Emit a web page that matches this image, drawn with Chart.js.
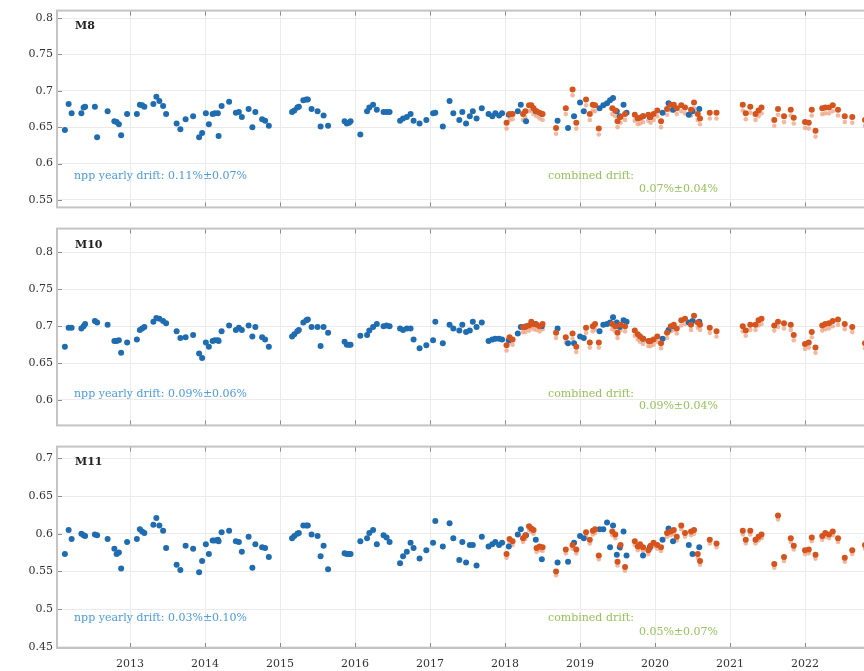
<!DOCTYPE html>
<html>
<head>
<meta charset="utf-8">
<script src="https://cdn.jsdelivr.net/npm/chart.js@4.4.1/dist/chart.umd.min.js"></script>
<style>
  html, body { margin: 0; padding: 0; background: #ffffff; overflow: hidden; }
  #wrap { position: relative; width: 864px; height: 671px; overflow: hidden; }
  .panel { position: absolute; left: 0; }
</style>
</head>
<body>
<div id="wrap">
  <div class="panel" style="top:0px"><canvas id="p0" width="905" height="218"></canvas></div>
  <div class="panel" style="top:218px"><canvas id="p1" width="905" height="218"></canvas></div>
  <div class="panel" style="top:436px"><canvas id="p2" width="905" height="235"></canvas></div>
</div>
<script>
// Observation dates (decimal years)
const nppDates = [
  2012.13, 2012.18, 2012.22, 2012.35, 2012.38, 2012.40, 2012.53, 2012.56, 2012.70, 2012.79, 2012.82, 2012.85, 2012.88, 2012.96,
  2013.09, 2013.13, 2013.16, 2013.19, 2013.31, 2013.35, 2013.39, 2013.44, 2013.48, 2013.62, 2013.67, 2013.74, 2013.84, 2013.92, 2013.96,
  2014.01, 2014.05, 2014.10, 2014.13, 2014.17, 2014.18, 2014.22, 2014.32, 2014.41, 2014.45, 2014.49, 2014.58, 2014.63, 2014.67, 2014.76, 2014.80, 2014.85,
  2015.16, 2015.19, 2015.23, 2015.25, 2015.31, 2015.35, 2015.37, 2015.42, 2015.50, 2015.54, 2015.58, 2015.64, 2015.86, 2015.89, 2015.92, 2015.94,
  2016.07, 2016.16, 2016.19, 2016.24, 2016.29, 2016.38, 2016.42, 2016.46, 2016.60, 2016.64, 2016.69, 2016.74, 2016.78, 2016.86, 2016.95,
  2017.04, 2017.07, 2017.17, 2017.26, 2017.31, 2017.39, 2017.43, 2017.48, 2017.53, 2017.57, 2017.62, 2017.69, 2017.78, 2017.83, 2017.87, 2017.92, 2017.96,
  2018.05, 2018.17, 2018.21, 2018.28, 2018.41, 2018.49, 2018.70, 2018.84, 2018.92, 2019.00, 2019.05,
  2019.26, 2019.31, 2019.36, 2019.40, 2019.44, 2019.49, 2019.53, 2019.58, 2019.62, 2019.84, 2019.93, 2020.10, 2020.18, 2020.24, 2020.45, 2020.50, 2020.59
];
const n20Dates = [
  2018.02, 2018.06, 2018.10, 2018.24, 2018.27, 2018.32, 2018.35, 2018.38, 2018.42, 2018.46, 2018.50, 2018.68, 2018.81, 2018.90, 2018.95,
  2019.08, 2019.13, 2019.17, 2019.20, 2019.25, 2019.43, 2019.47, 2019.50, 2019.54, 2019.60,
  2019.73, 2019.77, 2019.80, 2019.84, 2019.91, 2019.94, 2019.98, 2020.03, 2020.08, 2020.16, 2020.21, 2020.25, 2020.29, 2020.35, 2020.40, 2020.48, 2020.52, 2020.57, 2020.60, 2020.73, 2020.82,
  2021.17, 2021.21, 2021.27, 2021.34, 2021.38, 2021.42, 2021.59, 2021.64, 2021.72, 2021.81, 2021.85,
  2022.00, 2022.05, 2022.09, 2022.14, 2022.23, 2022.27, 2022.32, 2022.37, 2022.44, 2022.53, 2022.63, 2022.80
];

// M8
const m8Npp = [
  0.646, 0.682, 0.669, 0.669, 0.677, 0.678, 0.678, 0.636, 0.672, 0.658, 0.657, 0.654, 0.639, 0.668,
  0.668, 0.681, 0.680, 0.678, 0.682, 0.692, 0.686, 0.679, 0.668, 0.655, 0.647, 0.661, 0.665, 0.636, 0.642,
  0.669, 0.654, 0.668, 0.669, 0.669, 0.638, 0.679, 0.685, 0.670, 0.671, 0.664, 0.675, 0.650, 0.671, 0.661, 0.659, 0.652,
  0.671, 0.673, 0.677, 0.678, 0.687, 0.688, 0.688, 0.675, 0.672, 0.651, 0.666, 0.652, 0.658, 0.655, 0.656, 0.658,
  0.640, 0.672, 0.677, 0.681, 0.674, 0.671, 0.671, 0.671, 0.659, 0.662, 0.664, 0.668, 0.659, 0.655, 0.660,
  0.669, 0.670, 0.651, 0.686, 0.669, 0.660, 0.671, 0.655, 0.665, 0.672, 0.662, 0.676, 0.668, 0.665, 0.669, 0.666, 0.669,
  0.667, 0.672, 0.681, 0.658, 0.672, 0.668, 0.659, 0.649, 0.665, 0.684, 0.672,
  0.676, 0.680, 0.683, 0.687, 0.690, 0.672, 0.665, 0.681, 0.670, 0.665, 0.664, 0.670, 0.683, 0.674, 0.667, 0.672, 0.675
];
const m8N20 = [
  0.656, 0.668, 0.668, 0.668, 0.672, 0.680, 0.680, 0.676, 0.672, 0.670, 0.668, 0.649, 0.676, 0.702, 0.656,
  0.688, 0.668, 0.681, 0.680, 0.648, 0.676, 0.673, 0.658, 0.664, 0.668,
  0.667, 0.662, 0.663, 0.665, 0.667, 0.664, 0.668, 0.673, 0.658, 0.675, 0.681, 0.681, 0.676, 0.680, 0.677, 0.674, 0.684, 0.668, 0.662, 0.670, 0.670,
  0.681, 0.669, 0.678, 0.668, 0.673, 0.677, 0.660, 0.675, 0.665, 0.674, 0.663,
  0.657, 0.656, 0.674, 0.645, 0.676, 0.677, 0.677, 0.680, 0.674, 0.665, 0.664, 0.660
];
const m8N20Raw = [
  0.648, 0.660, 0.661, 0.660, 0.664, 0.672, 0.673, 0.668, 0.665, 0.662, 0.660, 0.641, 0.668, 0.694, 0.648,
  0.680, 0.660, 0.673, 0.672, 0.640, 0.668, 0.665, 0.650, 0.656, 0.660,
  0.659, 0.654, 0.655, 0.657, 0.659, 0.656, 0.660, 0.665, 0.650, 0.667, 0.673, 0.673, 0.668, 0.672, 0.669, 0.666, 0.676, 0.660, 0.654, 0.662, 0.662,
  0.673, 0.661, 0.670, 0.660, 0.665, 0.669, 0.652, 0.667, 0.657, 0.666, 0.655,
  0.649, 0.648, 0.666, 0.637, 0.668, 0.669, 0.669, 0.672, 0.666, 0.657, 0.656, 0.652
];

// M10
const m10Npp = [
  0.672, 0.698, 0.698, 0.697, 0.700, 0.703, 0.707, 0.705, 0.702, 0.680, 0.680, 0.681, 0.664, 0.678,
  0.682, 0.695, 0.697, 0.699, 0.706, 0.711, 0.710, 0.707, 0.704, 0.693, 0.684, 0.685, 0.688, 0.663, 0.657,
  0.678, 0.672, 0.680, 0.681, 0.681, 0.680, 0.693, 0.701, 0.695, 0.698, 0.695, 0.701, 0.686, 0.699, 0.685, 0.682, 0.672,
  0.686, 0.689, 0.693, 0.695, 0.705, 0.708, 0.709, 0.699, 0.699, 0.673, 0.699, 0.691, 0.679, 0.675, 0.675, 0.675,
  0.687, 0.688, 0.694, 0.699, 0.703, 0.700, 0.701, 0.700, 0.697, 0.695, 0.697, 0.697, 0.682, 0.670, 0.674,
  0.681, 0.706, 0.677, 0.702, 0.697, 0.694, 0.702, 0.692, 0.694, 0.706, 0.699, 0.705, 0.680, 0.682, 0.683, 0.683, 0.682,
  0.681, 0.690, 0.699, 0.700, 0.703, 0.700, 0.697, 0.677, 0.677, 0.686, 0.684,
  0.693, 0.702, 0.703, 0.705, 0.712, 0.705, 0.699, 0.708, 0.706, 0.683, 0.680, 0.683, 0.695, 0.700, 0.705, 0.707, 0.706
];
const m10N20 = [
  0.674, 0.685, 0.682, 0.699, 0.699, 0.701, 0.706, 0.703, 0.702, 0.700, 0.703, 0.691, 0.685, 0.690, 0.672,
  0.698, 0.678, 0.700, 0.703, 0.678, 0.703, 0.700, 0.691, 0.702, 0.700,
  0.694, 0.689, 0.686, 0.683, 0.680, 0.680, 0.682, 0.686, 0.677, 0.691, 0.700, 0.702, 0.697, 0.708, 0.710, 0.702, 0.714, 0.705, 0.702, 0.698, 0.693,
  0.700, 0.694, 0.702, 0.702, 0.708, 0.710, 0.701, 0.706, 0.704, 0.702, 0.688,
  0.676, 0.678, 0.692, 0.671, 0.701, 0.703, 0.704, 0.707, 0.709, 0.703, 0.699, 0.677
];
const m10N20Raw = [
  0.667, 0.678, 0.675, 0.692, 0.692, 0.694, 0.699, 0.696, 0.695, 0.693, 0.696, 0.684, 0.678, 0.683, 0.665,
  0.691, 0.671, 0.693, 0.696, 0.671, 0.696, 0.693, 0.684, 0.695, 0.693,
  0.687, 0.682, 0.679, 0.676, 0.673, 0.673, 0.675, 0.679, 0.670, 0.684, 0.693, 0.695, 0.690, 0.701, 0.703, 0.695, 0.707, 0.698, 0.695, 0.691, 0.686,
  0.693, 0.687, 0.695, 0.695, 0.701, 0.703, 0.694, 0.699, 0.697, 0.695, 0.681,
  0.669, 0.671, 0.685, 0.664, 0.694, 0.696, 0.697, 0.700, 0.702, 0.696, 0.692, 0.670
];

// M11
const m11Npp = [
  0.573, 0.605, 0.593, 0.600, 0.598, 0.597, 0.599, 0.598, 0.593, 0.580, 0.573, 0.575, 0.554, 0.589,
  0.593, 0.606, 0.603, 0.601, 0.612, 0.621, 0.611, 0.604, 0.581, 0.559, 0.552, 0.584, 0.580, 0.549, 0.564,
  0.586, 0.573, 0.591, 0.591, 0.592, 0.590, 0.602, 0.604, 0.590, 0.589, 0.576, 0.596, 0.555, 0.586, 0.582, 0.581, 0.569,
  0.594, 0.597, 0.600, 0.601, 0.611, 0.611, 0.611, 0.599, 0.597, 0.570, 0.584, 0.553, 0.574, 0.573, 0.573, 0.573,
  0.590, 0.594, 0.601, 0.605, 0.586, 0.598, 0.595, 0.589, 0.561, 0.570, 0.576, 0.588, 0.581, 0.567, 0.578,
  0.588, 0.617, 0.583, 0.614, 0.594, 0.565, 0.589, 0.562, 0.585, 0.585, 0.558, 0.596, 0.583, 0.586, 0.589, 0.585, 0.588,
  0.583, 0.599, 0.606, 0.598, 0.592, 0.566, 0.562, 0.563, 0.588, 0.597, 0.594,
  0.606, 0.606, 0.615, 0.582, 0.611, 0.572, 0.582, 0.603, 0.571, 0.571, 0.582, 0.592, 0.607, 0.590, 0.585, 0.573, 0.582
];
const m11N20 = [
  0.573, 0.593, 0.590, 0.594, 0.598, 0.610, 0.607, 0.605, 0.581, 0.583, 0.582, 0.550, 0.579, 0.585, 0.579,
  0.602, 0.592, 0.604, 0.606, 0.571, 0.603, 0.599, 0.563, 0.585, 0.556,
  0.590, 0.583, 0.586, 0.582, 0.578, 0.584, 0.588, 0.585, 0.582, 0.601, 0.603, 0.605, 0.596, 0.611, 0.601, 0.603, 0.605, 0.573, 0.564, 0.592, 0.587,
  0.604, 0.592, 0.604, 0.592, 0.596, 0.599, 0.560, 0.624, 0.569, 0.594, 0.584,
  0.578, 0.579, 0.595, 0.572, 0.597, 0.601, 0.599, 0.603, 0.594, 0.568, 0.578, 0.585
];
const m11N20Raw = [
  0.568, 0.588, 0.585, 0.589, 0.593, 0.605, 0.602, 0.600, 0.576, 0.578, 0.577, 0.545, 0.574, 0.580, 0.574,
  0.597, 0.587, 0.599, 0.601, 0.566, 0.598, 0.594, 0.558, 0.580, 0.551,
  0.585, 0.578, 0.581, 0.577, 0.573, 0.579, 0.583, 0.580, 0.577, 0.596, 0.598, 0.600, 0.591, 0.606, 0.596, 0.598, 0.600, 0.568, 0.559, 0.587, 0.582,
  0.599, 0.587, 0.599, 0.587, 0.591, 0.594, 0.555, 0.619, 0.564, 0.589, 0.579,
  0.573, 0.574, 0.590, 0.567, 0.592, 0.596, 0.594, 0.598, 0.589, 0.563, 0.573, 0.580
];

// Panel texts
const bandNames = ['M8', 'M10', 'M11'];
const nppDriftText = ['npp yearly drift: 0.11%\u00b10.07%', 'npp yearly drift: 0.09%\u00b10.06%', 'npp yearly drift: 0.03%\u00b10.10%'];
const combinedDriftText = ['0.07%\u00b10.04%', '0.09%\u00b10.04%', '0.05%\u00b10.07%'];
const lastYearLabel = 2022;

const SERIF = '"DejaVu Serif", "Liberation Serif", serif';
const BLUE = '#1f6db0';
const ORANGE = '#d5531c';
const ORANGE_RAW = 'rgba(238, 160, 128, 0.75)';
const TEXT_BLUE = '#4c9be0';
const TEXT_GREEN = '#98c25c';

function pts(xs, ys) { return xs.map((x, i) => ({ x: x, y: ys[i] })); }

// Box frame and inward tick marks
const framePlugin = {
  id: 'frame',
  beforeDatasetsDraw(chart) {
    const { ctx, chartArea: a, scales } = chart;
    ctx.save();
    ctx.strokeStyle = '#8c8c8c';
    ctx.lineWidth = 1;
    scales.y.ticks.forEach(t => {
      const py = Math.round(scales.y.getPixelForValue(t.value)) + 0.5;
      ctx.beginPath(); ctx.moveTo(a.left, py); ctx.lineTo(a.left + 5, py); ctx.stroke();
    });
    scales.x.ticks.forEach(t => {
      const px = Math.round(scales.x.getPixelForValue(t.value)) + 0.5;
      ctx.beginPath(); ctx.moveTo(px, a.bottom); ctx.lineTo(px, a.bottom - 5); ctx.stroke();
      ctx.beginPath(); ctx.moveTo(px, a.top); ctx.lineTo(px, a.top + 5); ctx.stroke();
    });
    ctx.strokeStyle = '#c4c4c4';
    ctx.lineWidth = 2;
    ctx.strokeRect(a.left, a.top, a.right - a.left, a.bottom - a.top);
    ctx.restore();
  }
};

// Band name and drift annotations
const notesPlugin = {
  id: 'notes',
  afterDraw(chart, args, opts) {
    const { ctx, chartArea: a } = chart;
    ctx.save();
    ctx.textBaseline = 'middle';
    ctx.textAlign = 'left';
    ctx.fillStyle = '#222222';
    ctx.font = 'bold 11px ' + SERIF;
    ctx.fillText(opts.band, a.left + 18, a.top + opts.bandDy);
    ctx.font = '11px ' + SERIF;
    ctx.fillStyle = TEXT_BLUE;
    ctx.fillText(opts.npp, a.left + 17, a.bottom - opts.nppDy);
    ctx.fillStyle = TEXT_GREEN;
    ctx.fillText('combined drift:', a.left + 491, a.bottom - opts.nppDy);
    ctx.textAlign = 'right';
    ctx.fillText(opts.combined, a.left + 661, a.bottom - opts.combDy);
    ctx.restore();
  }
};

function makePanel(id, idx, npp, n20, n20Raw, yMin, yMax, padTop, padBottom, showX, dy) {
  const ctx = document.getElementById(id).getContext('2d');
  return new Chart(ctx, {
    type: 'scatter',
    data: {
      datasets: [
        { label: 'n20 raw', data: pts(n20Dates, n20Raw), backgroundColor: ORANGE_RAW, pointRadius: 2.3, borderWidth: 0, order: 3 },
        { label: 'npp', data: pts(nppDates, npp), backgroundColor: BLUE, pointRadius: 3, borderWidth: 0, order: 2 },
        { label: 'n20', data: pts(n20Dates, n20), backgroundColor: ORANGE, pointRadius: 3, borderWidth: 0, order: 1 }
      ]
    },
    options: {
      responsive: false,
      animation: false,
      devicePixelRatio: 1,
      layout: { padding: { top: padTop, bottom: padBottom, left: 0, right: 0 } },
      plugins: {
        legend: { display: false },
        tooltip: { enabled: false },
        notes: { band: bandNames[idx], npp: nppDriftText[idx], combined: combinedDriftText[idx], bandDy: dy[0], nppDy: dy[1], combDy: dy[2] }
      },
      scales: {
        x: {
          type: 'linear',
          min: 2012.025,
          max: 2023.28,
          border: { display: false },
          grid: { color: '#ebebeb', lineWidth: 1, drawTicks: false },
          ticks: {
            display: showX,
            stepSize: 1,
            includeBounds: false,
            padding: 10,
            color: '#333333',
            font: { family: SERIF, size: 11 },
            maxRotation: 0,
            autoSkip: false,
            callback: v => (v <= lastYearLabel ? String(v) : '')
          },
          afterFit: s => { s.height = showX ? 23 : 0; }
        },
        y: {
          min: yMin,
          max: yMax,
          border: { display: false },
          grid: { color: '#ebebeb', lineWidth: 1, drawTicks: false },
          ticks: {
            stepSize: 0.05,
            includeBounds: false,
            padding: 4,
            color: '#333333',
            font: { family: SERIF, size: 11 },
            callback: v => String(Number(v.toFixed(2)))
          },
          afterFit: s => { s.width = 57; }
        }
      }
    },
    plugins: [framePlugin, notesPlugin]
  });
}

makePanel('p0', 0, m8Npp, m8N20, m8N20Raw, 0.5396, 0.8104, 7, 3, false, [16, 31, 18]);
makePanel('p1', 1, m10Npp, m10N20, m10N20Raw, 0.5655, 0.8323, 6, 3, false, [17, 31, 19]);
makePanel('p2', 2, m11Npp, m11N20, m11N20Raw, 0.4485, 0.7155, 7, 0, true, [16, 30, 16]);
</script>
</body>
</html>
